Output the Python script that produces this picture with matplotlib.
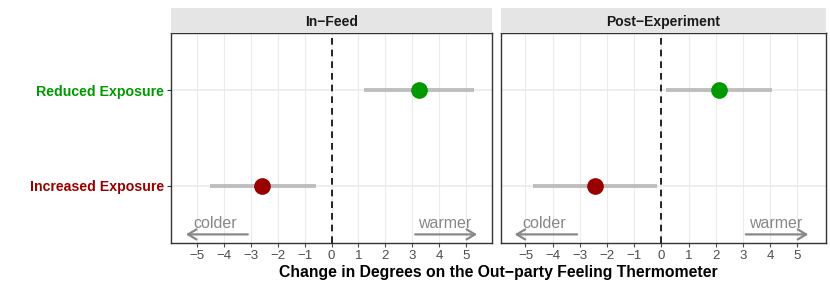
import matplotlib
matplotlib.use("Agg")
import matplotlib.pyplot as plt
from matplotlib.patches import Rectangle

plt.rcParams['font.family'] = ['Liberation Sans', 'DejaVu Sans']

panels = ["In\u2212Feed", "Post\u2212Experiment"]
categories = ["Increased Exposure", "Reduced Exposure"]
cat_colors = ["#990000", "#009900"]
estimates = [[-2.56, 3.25], [-2.46, 2.10]]
ci_low = [[-4.52, 1.22], [-4.74, 0.18]]
ci_high = [[-0.56, 5.30], [-0.15, 4.05]]
xticks = list(range(-5, 6))
xlims = [(-5.95, 5.95), (-5.9, 6.05)]

fig = plt.figure(figsize=(8.3, 2.9), dpi=100)
W, H = 830, 290
axes_px = [(171, 33, 492, 243), (501, 33, 826, 243)]

for i, (x0, y0, x1, y1) in enumerate(axes_px):
    ax = fig.add_axes([x0 / W, 1 - y1 / H, (x1 - x0) / W, (y1 - y0) / H])
    ax.set_xlim(*xlims[i])
    ax.set_ylim(0.4, 2.6)
    for t in xticks:
        ax.axvline(t, color="#EBEBEB", lw=0.8, zorder=0)
    for yv in [1, 2]:
        ax.axhline(yv, color="#EBEBEB", lw=1.2, zorder=0)
    ax.axvline(0, color="black", lw=1.2, ls=(0, (4, 3)), zorder=1)
    for j in range(2):
        ax.plot([ci_low[i][j], ci_high[i][j]], [j + 1, j + 1], color="#BEBEBE",
                lw=2.8, solid_capstyle="butt", zorder=2)
        ax.plot([estimates[i][j]], [j + 1], "o", color=cat_colors[j], ms=11, zorder=3)
    # arrows
    ax.annotate("", xy=(-5.5, 0.49), xytext=(-3, 0.49),
                arrowprops=dict(arrowstyle="->,head_length=0.5,head_width=0.3",
                                color="#888888", lw=1.6, mutation_scale=12))
    ax.annotate("", xy=(5.5, 0.49), xytext=(3, 0.49),
                arrowprops=dict(arrowstyle="->,head_length=0.5,head_width=0.3",
                                color="#888888", lw=1.6, mutation_scale=12))
    ax.text(-4.3, 0.53, "colder", color="#888888", fontsize=11.5, ha="center", va="bottom")
    ax.text(4.2, 0.53, "warmer", color="#888888", fontsize=11.5, ha="center", va="bottom")

    ax.set_xticks(xticks)
    ax.set_xticklabels([("\u2212%d" % -t) if t < 0 else str(t) for t in xticks])
    ax.tick_params(axis="x", colors="#4D4D4D", labelsize=9.5, length=3, width=0.8,
                   labelcolor="#4D4D4D", pad=2)
    ax.set_yticks([1, 2])
    if i == 0:
        ax.set_yticklabels(categories, fontsize=10.2, fontweight="bold")
        ax.tick_params(axis="y", length=3, width=0.8, colors="#333333", pad=2)
        for lab, c in zip(ax.get_yticklabels(), cat_colors):
            lab.set_color(c)
    else:
        ax.set_yticklabels([])
        ax.tick_params(axis="y", length=0)
    for s in ax.spines.values():
        s.set_color("#333333")
        s.set_linewidth(1.0)

    # strip
    sax = fig.add_axes([x0 / W, 1 - y0 / H, (x1 - x0) / W, 25 / H])
    sax.set_xlim(0, 1); sax.set_ylim(0, 1)
    sax.add_patch(Rectangle((0, 0), 1, 1, color="#E5E5E5", transform=sax.transAxes))
    sax.axis("off")
    sax.text(0.5, 0.45, panels[i], ha="center", va="center", fontsize=10,
             fontweight="bold", color="#1A1A1A")

fig.text((171 + 826) / 2 / W, 1 - 272 / H, "Change in Degrees on the Out\u2212party Feeling Thermometer",
         ha="center", va="center", fontsize=11.3, fontweight="bold")

fig.savefig("out.png", dpi=100)
